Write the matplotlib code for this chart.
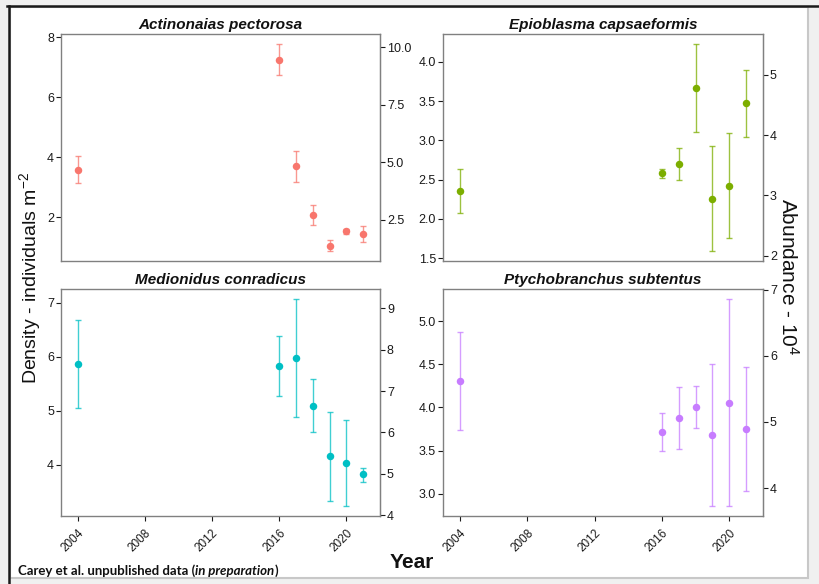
import matplotlib
matplotlib.use('Agg')
import matplotlib.pyplot as plt
from matplotlib.patches import Rectangle
from matplotlib.lines import Line2D
import numpy as np

plt.rcParams['font.family'] = ['Liberation Sans', 'DejaVu Sans']
plt.rcParams['mathtext.default'] = 'regular'

# ---------------- data ----------------
years = [2004, 2016, 2017, 2018, 2019, 2020, 2021]
x_ticks = [2004, 2008, 2012, 2016, 2020]

species = ["Actinonaias pectorosa", "Epioblasma capsaeformis",
           "Medionidus conradicus", "Ptychobranchus subtentus"]
colors = ["#F8766D", "#7CAE00", "#00BFC4", "#C77CFF"]

actinonaias_mean = [3.59, 7.25, 3.70, 2.08, 1.03, 1.54, 1.44]
actinonaias_lo = [3.14, 6.75, 3.19, 1.75, 0.88, 1.45, 1.17]
actinonaias_hi = [4.04, 7.76, 4.20, 2.40, 1.23, 1.62, 1.72]

epioblasma_mean = [2.356, 2.581, 2.696, 3.662, 2.255, 2.424, 3.471]
epioblasma_lo = [2.073, 2.518, 2.490, 3.103, 1.594, 1.755, 3.043]
epioblasma_hi = [2.632, 2.640, 2.907, 4.221, 2.925, 3.098, 3.898]

medionidus_mean = [5.865, 5.828, 5.976, 5.093, 4.155, 4.031, 3.822]
medionidus_lo = [5.044, 5.267, 4.889, 4.610, 3.330, 3.229, 3.685]
medionidus_hi = [6.685, 6.390, 7.060, 5.580, 4.980, 4.833, 3.944]

ptychobranchus_mean = [4.300, 3.718, 3.873, 4.004, 3.676, 4.054, 3.749]
ptychobranchus_lo = [3.734, 3.494, 3.514, 3.757, 2.853, 2.853, 3.031]
ptychobranchus_hi = [4.873, 3.938, 4.235, 4.251, 4.498, 5.251, 4.471]

# abundance (x10^4) = density * factor
abundance_factor = 1.305

density_ticks = [[2, 4, 6, 8], [1.5, 2.0, 2.5, 3.0, 3.5, 4.0],
                 [4, 5, 6, 7], [3.0, 3.5, 4.0, 4.5, 5.0]]
abundance_ticks = [[2.5, 5.0, 7.5, 10.0], [2, 3, 4, 5],
                   [4, 5, 6, 7, 8, 9], [4, 5, 6, 7]]
density_fmt = ['{:.0f}', '{:.1f}', '{:.0f}', '{:.1f}']
abundance_fmt = ['{:.1f}', '{:.0f}', '{:.0f}', '{:.0f}']

means = [actinonaias_mean, epioblasma_mean, medionidus_mean, ptychobranchus_mean]
los = [actinonaias_lo, epioblasma_lo, medionidus_lo, ptychobranchus_lo]
his = [actinonaias_hi, epioblasma_hi, medionidus_hi, ptychobranchus_hi]

# ---------------- layout ----------------
W, H = 819, 584
fig = plt.figure(figsize=(W / 100, H / 100), dpi=100, facecolor='#f0f0f0')

# white panel with borders
fig.patches.append(Rectangle((10 / W, 1 - 578 / H), (808 - 10) / W, (578 - 7) / H,
                             transform=fig.transFigure, facecolor='white',
                             edgecolor='#c8c8c8', lw=1.5, zorder=-10))
fig.lines.append(Line2D([7 / W, 1], [1 - 6 / H, 1 - 6 / H], transform=fig.transFigure,
                        color='#1a1a1a', lw=1.8, zorder=-5))
fig.lines.append(Line2D([8.5 / W, 8.5 / W], [0, 1 - 6 / H], transform=fig.transFigure,
                        color='#1a1a1a', lw=1.8, zorder=-5))

ylims = [(0.54, 8.11), (1.466, 4.352), (3.05, 7.253), (2.742, 5.371)]
pos_px = [(61, 34, 380, 261), (443, 34, 763, 261),
          (61, 289, 380, 516), (443, 289, 763, 516)]

spine_c = '#808080'
tick_c = '#1a1a1a'
f = abundance_factor

for i in range(4):
    l, t, r, b = pos_px[i]
    ax = fig.add_axes([l / W, 1 - b / H, (r - l) / W, (b - t) / H])
    ax.set_facecolor('white')
    m = np.array(means[i]); lo = np.array(los[i]); hi = np.array(his[i])
    ax.errorbar(years, m, yerr=[m - lo, hi - m], fmt='none', ecolor=colors[i],
                alpha=0.75, elinewidth=1.0, capsize=2.4, capthick=1.0, zorder=2)
    ax.plot(years, m, 'o', color=colors[i], markersize=5.4, markeredgewidth=0, zorder=3)
    ax.set_xlim(2003.0, 2022.0)
    ax.set_ylim(*ylims[i])
    ax.set_title(species[i], fontsize=11, fontweight='bold', fontstyle='italic',
                 pad=3.5, color='#111111')
    for s in ax.spines.values():
        s.set_color(spine_c)
        s.set_linewidth(1.0)
    ax.set_yticks(density_ticks[i])
    ax.set_yticklabels([density_fmt[i].format(v) for v in density_ticks[i]])
    ax.tick_params(axis='y', direction='out', length=3.8, width=0.8, color=tick_c,
                   labelsize=9, labelcolor=tick_c, pad=1.2)
    if i < 2:
        ax.set_xticks([])
    else:
        ax.set_xticks(x_ticks)
        ax.set_xticklabels([str(v) for v in x_ticks], rotation=45, ha='right',
                           rotation_mode='anchor')
        ax.tick_params(axis='x', direction='out', length=3.8, width=0.8, color=tick_c,
                       labelsize=8.5, labelcolor=tick_c, pad=4)
    sec = ax.secondary_yaxis('right', functions=(lambda x: x * f, lambda x: x / f))
    sec.set_yticks(abundance_ticks[i])
    sec.set_yticklabels([abundance_fmt[i].format(v) for v in abundance_ticks[i]])
    sec.tick_params(axis='y', direction='out', length=3.8, width=0.8, color=tick_c,
                    labelsize=9, labelcolor=tick_c, pad=1.2)
    sec.spines['right'].set_color(spine_c)
    if i == 2:
        ax3 = ax

# ---------------- figure labels ----------------
fig.text(30 / W, 1 - 278 / H, 'Density - individuals m$^{-2}$', rotation=90,
         ha='center', va='center', fontsize=14, color='#111111')
fig.text(788 / W, 1 - 277 / H, 'Abundance - 10$^{4}$', rotation=270,
         ha='center', va='center', fontsize=15, color='#111111')
fig.text(412 / W, 1 - 563 / H, 'Year', ha='center', va='center', fontsize=15,
         fontweight='bold', color='#111111')

cfam = ['Lato', 'DejaVu Sans']
t1 = fig.text(18 / W, 1 - 577 / H, 'Carey et al. unpublished data (', ha='left',
              va='bottom', fontsize=9.5, fontweight='bold', family=cfam, color='#111111')
t2 = ax3.annotate('in preparation', xy=(1, 0), xycoords=t1, ha='left', va='bottom',
                  fontsize=9.5, fontweight='bold', fontstyle='italic', family=cfam,
                  color='#111111', annotation_clip=False)
t3 = ax3.annotate(')', xy=(1, 0), xycoords=t2, ha='left', va='bottom',
                  fontsize=9.5, fontweight='bold', family=cfam, color='#111111',
                  annotation_clip=False)

fig.savefig('out.png', dpi=100, facecolor=fig.get_facecolor())
